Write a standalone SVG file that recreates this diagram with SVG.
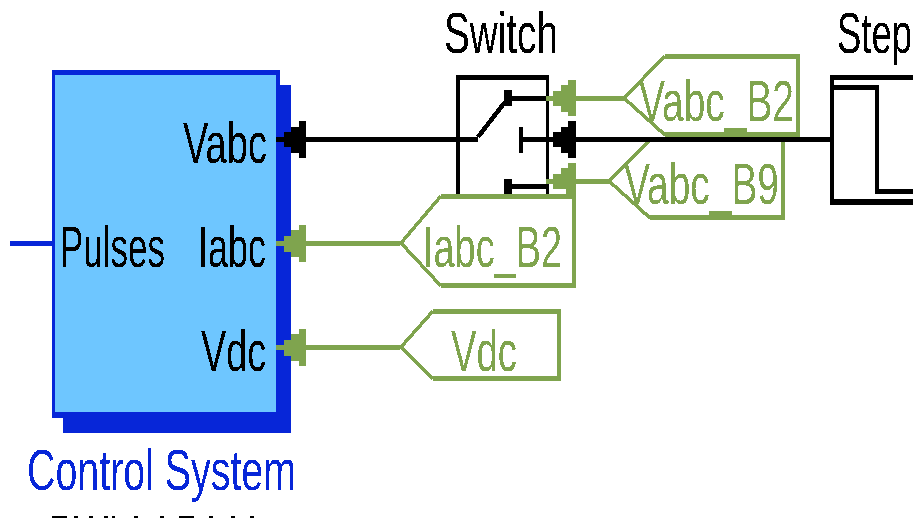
<svg xmlns="http://www.w3.org/2000/svg" width="913" height="518" viewBox="0 0 913 518">
<style>
text{font-family:"Liberation Sans",Arial,sans-serif;font-size:57px;filter:url(#hard);}
.k{fill:#000}
.g{fill:#7FA44E}
.b{fill:#0726D8}
.gt{fill:#fff}
.gs{fill:#7FA44E;shape-rendering:crispEdges}
.diag{fill:none;stroke:#7FA44E;stroke-width:3.500;shape-rendering:crispEdges}
.edge{shape-rendering:crispEdges}
</style>
<defs>
<filter id="hard" x="-5%" y="-5%" width="110%" height="110%" color-interpolation-filters="sRGB">
<feComponentTransfer><feFuncA type="discrete" tableValues="0 1"/></feComponentTransfer>
</filter>
</defs>
<rect width="913" height="518" fill="#fff"/>
<g id="control-system">
<rect x="63" y="85" width="228" height="348" fill="#0726D8"/>
<rect x="52" y="70" width="228" height="348" fill="#0726D8"/>
<rect x="55" y="75" width="221" height="337" fill="#6EC6FF"/>
<text class="k" x="183" y="163" textLength="84" lengthAdjust="spacingAndGlyphs">Vabc</text>
<text class="k" x="198" y="267" textLength="68" lengthAdjust="spacingAndGlyphs">Iabc</text>
<text class="k" x="201" y="371" textLength="65" lengthAdjust="spacingAndGlyphs">Vdc</text>
<text class="k" x="60" y="267" textLength="105" lengthAdjust="spacingAndGlyphs">Pulses</text>
<text class="b" x="27" y="490" textLength="269" lengthAdjust="spacingAndGlyphs">Control System</text>
</g>
<g id="switch">
<text class="k" x="444" y="53" textLength="114" lengthAdjust="spacingAndGlyphs">Switch</text>
<path class="edge" d="M456 75H549V195H546V80H460V195H456Z"/>
<path class="edge" d="M504 90H512V96H546V101H512V106H504Z"/>
<path class="edge" d="M519 127H523V137H553V142H523V153H519Z"/>
<path class="edge" d="M504 179H512V184H546V189H512V194H504Z"/>
<path d="M478 137L505 102" fill="none" stroke="#000" stroke-width="4.500" shape-rendering="crispEdges"/>
</g>
<g id="step">
<text class="k" x="837" y="53" textLength="75" lengthAdjust="spacingAndGlyphs">Step</text>
<path class="edge" d="M913 75H830V205H913V199H834V90H875V194H913V189H879V85H834V80H913Z"/>
</g>
<g id="goto-vabc-b2">
<path class="gt" d="M665 56H798V135H665L623 98Z"/>
<path class="gs" d="M665 54H800V137H665V132H796V59H665Z"/>
<path class="diag" d="M665 56L624 98L665 135"/>
<text class="g" x="639" y="121" textLength="155" lengthAdjust="spacingAndGlyphs">Vabc_B2</text>
</g>
<g id="goto-vabc-b9">
<path class="gt" d="M650 142H783V218H650L608 181Z"/>
<path class="gs" d="M650 215H781V137H785V220H650Z"/>
<path class="diag" d="M650 140L609 181L650 218"/>
<text class="g" x="624" y="204" textLength="155" lengthAdjust="spacingAndGlyphs">Vabc_B9</text>
</g>
<g id="goto-iabc-b2">
<path class="gt" d="M441 196H574V286H441L400 243Z"/>
<path class="gs" d="M441 194H576V288H441V283H572V199H441Z"/>
<path class="diag" d="M441 196L401 243L441 286"/>
<text class="g" x="423" y="267" textLength="139" lengthAdjust="spacingAndGlyphs">Iabc_B2</text>
</g>
<g id="goto-vdc">
<path class="gt" d="M433 311H559V379H433L400 347Z"/>
<path class="gs" d="M433 309H561V381H433V376H557V314H433Z"/>
<path class="diag" d="M433 311L401 347L433 379"/>
<text class="g" x="451" y="371" textLength="66" lengthAdjust="spacingAndGlyphs">Vdc</text>
</g>
<g id="connectors" class="edge">
<rect x="10" y="241" width="42" height="5" class="b"/>
<rect x="276" y="137" width="202" height="5"/>
<rect x="553" y="137" width="279" height="5"/>
<path class="g" d="M276 241H284V236H291V230H299V225H306V241H400V246H306V262H299V257H291V252H284V246H276Z"/>
<path class="g" d="M276 345H284V340H291V334H299V329H306V345H400V350H306V366H299V361H291V356H284V350H276Z"/>
<path d="M276 137H284V132H291V127H299V121H306V158H299V153H291V147H284V142H276Z"/>
<path d="M553 132H561V127H568V121H576V158H568V153H561V147H553Z"/>
<path class="g" d="M546 96H553V91H561V85H568V80H576V96H624V101H576V116H568V112H561V106H553V101H546Z"/>
<path class="g" d="M546 179H553V174H561V168H568V163H576V179H609V184H576V195H566V189H553V184H546Z"/>
</g>
<g id="cropped-caption-edge" class="edge">
<path d="M52 516h15v2h-15zM74 516h4v2h-4zM89 516h4v2h-4zM104 516h4v2h-4zM112 516h3v2h-3zM134 516h4v2h-4zM160 516h4v2h-4zM179 516h15v2h-15zM209 516h4v2h-4zM231 516h4v2h-4zM250 516h4v2h-4z"/>
</g>
</svg>
